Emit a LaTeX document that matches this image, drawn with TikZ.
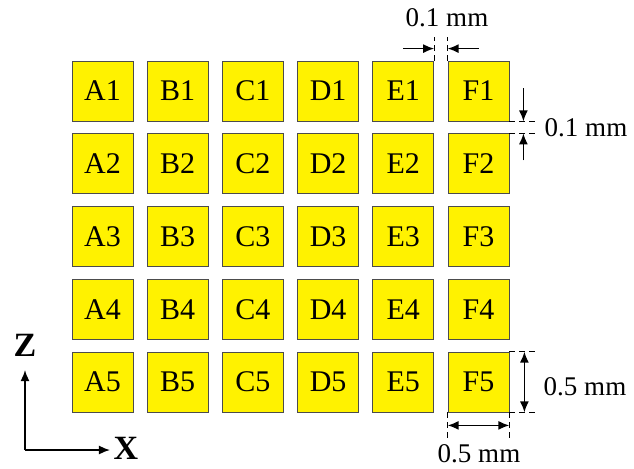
\documentclass[tikz,border=0pt]{standalone}
\usepackage{fontspec}
\setmainfont{Liberation Serif}
\usetikzlibrary{arrows.meta,calc}
\begin{document}
\begin{tikzpicture}[x=0.5pt,y=-0.5pt,>={Latex[length=5.5pt,width=4.5pt]},
 cell/.style={draw=black!70,fill=yellow,minimum width=30.5pt,minimum height=30pt,inner sep=0pt,font=\fontsize{15}{15}\selectfont},
 dim/.style={font=\fontsize{13.5}{14}\selectfont,inner sep=1pt},
 ext/.style={densely dashed,line width=0.6pt},
 arr/.style={line width=0.8pt}]
\useasboundingbox (0,0) rectangle (634,468);
\foreach \c [count=\i from 0] in {A,B,C,D,E,F}
 \foreach \r in {1,...,5}
  \node[cell] (\c\r) at (102.5+75.2*\i,91+72.75*\r-72.75) {\c\r};
% gap between columns
\coordinate (gapL) at ($(E1.north east)+(0,-24)$);\coordinate (gapR) at ($(F1.north west)+(0,-24)$);
\coordinate (gapLa) at ($(E1.north east)+(-31,-12)$);\coordinate (gapLb) at ($(E1.north east)+(0,-12)$);
\coordinate (gapRa) at ($(F1.north west)+(31,-12)$);\coordinate (gapRb) at ($(F1.north west)+(0,-12)$);
\draw[ext] (E1.north east)--(gapL); \draw[ext] (F1.north west)--(gapR);
\draw[->,arr] (gapLa)--(gapLb); \draw[->,arr] (gapRa)--(gapRb);
\node[dim] (gapX) at (447,18) {0.1 mm};
% gap between rows
\coordinate (gapT) at ($(F1.south east)+(26,0)$);\coordinate (gapB) at ($(F2.north east)+(26,0)$);
\coordinate (gapTa) at ($(F1.south east)+(14,-33)$);\coordinate (gapTb) at ($(F1.south east)+(14,0)$);
\coordinate (gapBa) at ($(F2.north east)+(14,27)$);\coordinate (gapBb) at ($(F2.north east)+(14,0)$);
\draw[ext] (F1.south east)--(gapT); \draw[ext] (F2.north east)--(gapB);
\draw[->,arr] (gapTa)--(gapTb); \draw[->,arr] (gapBa)--(gapBb);
\node[dim] (gapZ) at (586,128) {0.1 mm};
% cell size
\coordinate (hT) at ($(F5.north east)+(28,0)$);\coordinate (hB) at ($(F5.south east)+(28,0)$);
\coordinate (hTa) at ($(F5.north east)+(15,0)$);\coordinate (hBa) at ($(F5.south east)+(15,0)$);
\draw[ext] (F5.north east)--(hT); \draw[ext] (F5.south east)--(hB);
\draw[<->,arr] (hTa)--(hBa);
\node[dim] (hZ) at (585,387) {0.5 mm};
\coordinate (wL) at ($(F5.south west)+(0,28)$);\coordinate (wR) at ($(F5.south east)+(0,28)$);
\coordinate (wLa) at ($(F5.south west)+(0,13)$);\coordinate (wRa) at ($(F5.south east)+(0,13)$);
\draw[ext] (F5.south west)--(wL); \draw[ext] (F5.south east)--(wR);
\draw[<->,arr] (wLa)--(wRa);
\node[dim] (wX) at (479,454) {0.5 mm};
% axes
\coordinate (O) at (25,450);\coordinate (Zt) at (25,370);\coordinate (Xt) at (110,450);
\draw[->,arr] (O)--(Zt); \draw[->,arr] (O)--(Xt);
\node[font=\fontsize{17}{17}\selectfont\bfseries] (Z) at (25,345) {Z};
\node[font=\fontsize{17}{17}\selectfont\bfseries] (X) at (126,448) {X};
\end{tikzpicture}
\end{document}
